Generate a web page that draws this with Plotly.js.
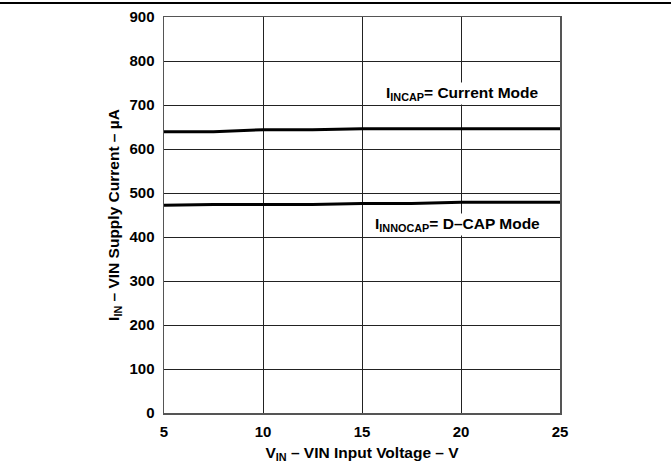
<!DOCTYPE html>
<html>
<head>
<meta charset="utf-8">
<script src="https://cdn.plot.ly/plotly-3.0.1.min.js"></script>
<style>
html,body{margin:0;padding:0;background:#fff;}
#chart{width:671px;height:466px;}
</style>
</head>
<body>
<div id="chart"></div>
<script>
const vin = [5, 7.5, 10, 12.5, 15, 17.5, 20, 22.5, 25];
const currentMode = [639, 639, 644, 644, 646, 646, 646, 646, 646];
const dcapMode = [472, 474, 474, 474, 476, 476, 479, 479, 479];
const xTicks = [5, 10, 15, 20, 25];
const yTicks = [0, 100, 200, 300, 400, 500, 600, 700, 800, 900];

const fam = 'Liberation Sans, Arial, sans-serif';
const boldFont = (s) => ({family: fam, size: s, color: '#000', weight: 'bold'});

const traces = [
  {x: vin, y: currentMode, mode: 'lines', line: {color: '#000', width: 3}, hoverinfo: 'skip'},
  {x: vin, y: dcapMode, mode: 'lines', line: {color: '#000', width: 3}, hoverinfo: 'skip'}
];

const layout = {
  width: 671, height: 466,
  margin: {l: 164, r: 111, t: 17, b: 53},
  paper_bgcolor: '#fff', plot_bgcolor: '#fff',
  showlegend: false,
  font: {family: fam, size: 15, color: '#000'},
  xaxis: {
    range: [5, 25], tickvals: xTicks, ticktext: xTicks.map(String),
    showgrid: true, gridcolor: '#222', gridwidth: 1,
    zeroline: false, showline: true, linecolor: '#555', linewidth: 1.5, mirror: true,
    ticks: '', ticklabelstandoff: 4, tickfont: boldFont(15),
    title: {text: 'V<sub>IN</sub> – VIN Input Voltage – V', font: boldFont(15.5), standoff: 8}
  },
  yaxis: {
    range: [0, 900], tickvals: yTicks, ticktext: yTicks.map(String),
    showgrid: true, gridcolor: '#222', gridwidth: 1,
    zeroline: false, showline: true, linecolor: '#555', linewidth: 1.5, mirror: true,
    ticks: '', ticklabelstandoff: 5, tickfont: boldFont(15),
    title: {text: 'I<sub>IN</sub> – VIN Supply Current – µA', font: boldFont(15.5), standoff: 6}
  },
  annotations: [
    {x: 20.08, y: 727, xref: 'x', yref: 'y', showarrow: false,
     text: 'I<sub>INCAP</sub>= Current Mode', bgcolor: '#fff', borderpad: 1,
     font: boldFont(15.5)},
    {x: 19.82, y: 428, xref: 'x', yref: 'y', showarrow: false,
     text: 'I<sub>INNOCAP</sub>= D–CAP Mode', bgcolor: '#fff', borderpad: 1,
     font: boldFont(15.5)}
  ],
  shapes: [
    {type: 'line', xref: 'paper', yref: 'paper', x0: -164/396, x1: 1 + 111/396, y0: 1 + 14/396, y1: 1 + 14/396,
     line: {color: '#000', width: 2}}
  ]
};

Plotly.newPlot('chart', traces, layout, {displayModeBar: false, staticPlot: true});
</script>
</body>
</html>
